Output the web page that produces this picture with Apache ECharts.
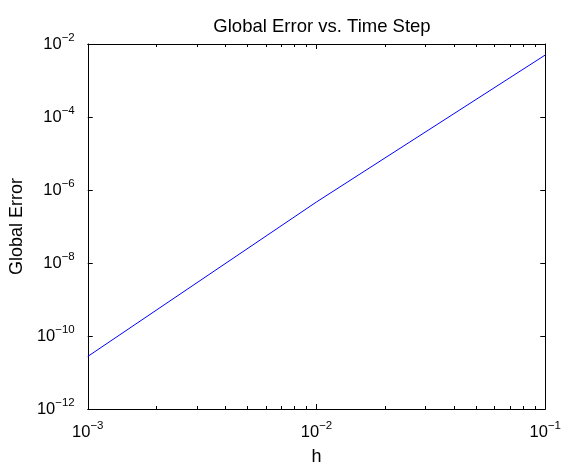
<!DOCTYPE html>
<html>
<head>
<meta charset="utf-8">
<script src="https://cdn.jsdelivr.net/npm/echarts@6/dist/echarts.min.js"></script>
<style>
  html, body { margin: 0; padding: 0; background: #fff; }
  #chart { width: 564px; height: 471px; }
</style>
</head>
<body>
<div id="chart"></div>
<script>
// Time step sizes and the measured global error at each one
const stepSizes = [1e-3, 1e-2, 1e-1];
const globalErrors = [2.75e-11, 4.7e-7, 5.0e-3];

// Tick positions
const xMajorTicks = [1e-3, 1e-2, 1e-1];
const xMinorTicks = [2e-3, 3e-3, 4e-3, 5e-3, 6e-3, 7e-3, 8e-3, 9e-3,
                     2e-2, 3e-2, 4e-2, 5e-2, 6e-2, 7e-2, 8e-2, 9e-2];
const yMajorTicks = [1e-12, 1e-10, 1e-8, 1e-6, 1e-4, 1e-2];

const FONT = '"Liberation Sans", Arial, Helvetica, sans-serif';

function powerLabel(v) {
  const e = Math.round(Math.log10(v));
  const s = e < 0 ? '\u2212' + Math.abs(e) : String(e);
  return '{b|10}{s|' + s + '}';
}

const richPow = {
  b: { fontSize: 16.5, fontFamily: FONT, color: '#000' },
  s: { fontSize: 11.5, fontFamily: FONT, color: '#000', padding: [0, 0, 12, 0] }
};

const lineStyle = { color: '#000', width: 1 };

function xAxisDef(opts) {
  return Object.assign({
    type: 'log', logBase: 10, min: 1e-3, max: 1e-1,
    gridIndex: 0,
    splitLine: { show: false },
    axisLine: { show: false, lineStyle },
    axisTick: { show: false },
    axisLabel: { show: false }
  }, opts);
}
function yAxisDef(opts) {
  return Object.assign({
    type: 'log', logBase: 10, min: 1e-12, max: 1e-2,
    gridIndex: 0,
    splitLine: { show: false },
    axisLine: { show: false, lineStyle },
    axisTick: { show: false },
    axisLabel: { show: false }
  }, opts);
}

const chart = echarts.init(document.getElementById('chart'), null, { renderer: 'canvas' });

chart.setOption({
  animation: false,
  backgroundColor: '#fff',
  title: {
    text: 'Global Error vs. Time Step',
    left: 317, top: 12, textAlign: 'center',
    textStyle: { fontFamily: FONT, fontSize: 18.5, fontWeight: 'normal', color: '#000' }
  },
  grid: { left: 87, right: 17, top: 44, bottom: 49 },
  xAxis: [
    // bottom axis: line, major ticks and labels
    xAxisDef({
      position: 'bottom',
      name: 'h', nameLocation: 'middle', nameGap: 39,
      nameTextStyle: { fontFamily: FONT, fontSize: 18, color: '#000' },
      axisLine: { show: true, onZero: false, lineStyle },
      axisTick: { show: true, inside: true, length: 5, lineStyle, customValues: xMajorTicks },
      axisLabel: {
        show: true, margin: 11, customValues: xMajorTicks,
        formatter: powerLabel, rich: richPow
      }
    }),
    // bottom minor ticks
    xAxisDef({
      position: 'bottom',
      axisTick: { show: true, inside: true, length: 3, lineStyle, customValues: xMinorTicks }
    }),
    // top edge of the box
    xAxisDef({
      position: 'top',
      axisLine: { show: true, onZero: false, lineStyle },
      axisTick: { show: true, inside: true, length: 5, lineStyle, customValues: xMajorTicks }
    }),
    xAxisDef({
      position: 'top',
      axisTick: { show: true, inside: true, length: 3, lineStyle, customValues: xMinorTicks }
    })
  ],
  yAxis: [
    yAxisDef({
      position: 'left',
      name: 'Global Error', nameLocation: 'middle', nameGap: 55,
      nameTextStyle: { fontFamily: FONT, fontSize: 18, color: '#000' },
      axisLine: { show: true, onZero: false, lineStyle },
      axisTick: { show: true, inside: true, length: 5, lineStyle, customValues: yMajorTicks },
      axisLabel: {
        show: true, margin: 13, customValues: yMajorTicks,
        formatter: powerLabel, rich: richPow
      }
    }),
    yAxisDef({
      position: 'right',
      axisLine: { show: true, onZero: false, lineStyle },
      axisTick: { show: true, inside: true, length: 5, lineStyle, customValues: yMajorTicks }
    })
  ],
  series: [{
    type: 'line',
    xAxisIndex: 0, yAxisIndex: 0,
    data: stepSizes.map((h, i) => [h, globalErrors[i]]),
    showSymbol: false,
    symbol: 'none',
    lineStyle: { color: '#0000ff', width: 1 },
    z: 1
  }]
});
</script>
</body>
</html>
